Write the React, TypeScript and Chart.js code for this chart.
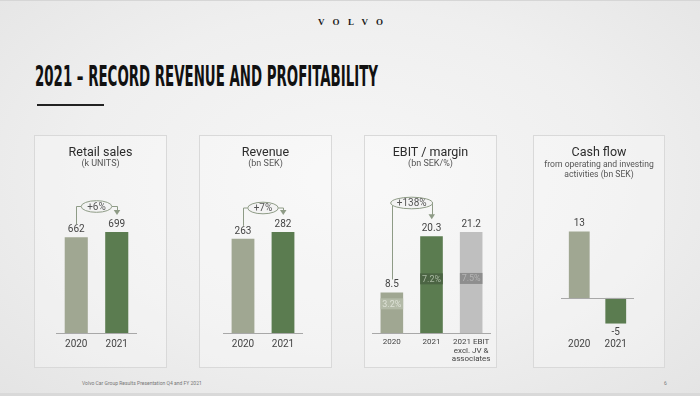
import React, { useEffect, useLayoutEffect, useRef } from "react";
import { Chart, registerables } from "chart.js";

Chart.register(...registerables);

// ---------- data ----------
const retailCategories = ["2020", "2021"];
const retailValues = [662, 699];
const retailGrowth = "+6%";

const revenueCategories = ["2020", "2021"];
const revenueValues = [263, 282];
const revenueGrowth = "+7%";

const ebitCategories = [["2020"], ["2021"], ["2021 EBIT", "excl. JV &", "associates"]];
const ebitValues = [8.5, 20.3, 21.2];
const ebitMargins = ["3.2%", "7.2%", "7.5%"];
const ebitGrowth = "+138%";

const cashCategories = ["2020", "2021"];
const cashValues = [13, -5];

// ---------- style ----------
const FONT = "Roboto, 'Liberation Sans', sans-serif";
const C2020 = "#a0a792";
const C2021 = "#5b7c50";
const CGRAY = "#bfbfbf";
const LINE = "#8e9b86";
const PANEL_TOP = 134;
const PANEL_H = 233;

type PanelCfg = {
  left: number;
  width: number;
  areaLeft: number;
  areaRight: number;
  title: string;
  sub: string[];
  subTop: number;
  labels: any[];
  values: number[];
  colors: string[];
  yMin: number;
  yMax: number;
  growth?: string;
  growthOffset?: number;
  margins?: string[];
  bandFrac?: number[];
  bandColors?: string[];
  bandText?: string[];
  tickSize: number;
  tickLH: number;
};

const panels: PanelCfg[] = [
  {
    left: 34, width: 133, areaLeft: 56, areaRight: 137,
    title: "Retail sales", sub: ["(k UNITS)"], subTop: 158,
    labels: retailCategories, values: retailValues, colors: [C2020, C2021],
    yMin: 0, yMax: 983, growth: retailGrowth, growthOffset: 15.5,
    tickSize: 10, tickLH: 1.2,
  },
  {
    left: 199, width: 133, areaLeft: 223, areaRight: 303,
    title: "Revenue", sub: ["(bn SEK)"], subTop: 158,
    labels: revenueCategories, values: revenueValues, colors: [C2020, C2021],
    yMin: 0, yMax: 396.5, growth: revenueGrowth, growthOffset: 17,
    tickSize: 10, tickLH: 1.2,
  },
  {
    left: 364, width: 133, areaLeft: 372, areaRight: 491,
    title: "EBIT / margin", sub: ["(bn SEK/%)"], subTop: 158,
    labels: ebitCategories, values: ebitValues, colors: [C2020, C2021, CGRAY],
    yMin: 0, yMax: 29.8, growth: ebitGrowth, growthOffset: 12,
    margins: ebitMargins, bandFrac: [0.72, 0.56, 0.54],
    bandColors: ["#b3baa7", "#4b6443", "#8e8e8e"],
    bandText: ["#dde1d6", "#a9b9a2", "#b4b4b4"],
    tickSize: 8, tickLH: 1.05,
  },
  {
    left: 533, width: 132, areaLeft: 561, areaRight: 634,
    title: "Cash flow", sub: ["from operating and investing", "activities (bn SEK)"], subTop: 159,
    labels: cashCategories, values: cashValues, colors: [C2020, C2021],
    yMin: -6.85, yMax: 20.9,
    tickSize: 10, tickLH: 1.2,
  },
];

function decorPlugin(cfg: PanelCfg) {
  return {
    id: "decor",
    afterDatasetsDraw(chart: any) {
      const ctx = chart.ctx as CanvasRenderingContext2D;
      const area = chart.chartArea;
      const y = chart.scales.y;
      const meta = chart.getDatasetMeta(0);
      const y0 = Math.round(y.getPixelForValue(0)) + 0.5;
      ctx.save();
      ctx.textAlign = "center";
      ctx.textBaseline = "middle";

      // margin bands
      if (cfg.margins) {
        meta.data.forEach((el: any, i: number) => {
          const h = el.base - el.y;
          const cy = el.base - cfg.bandFrac![i] * h;
          ctx.fillStyle = cfg.bandColors![i];
          ctx.fillRect(el.x - el.width / 2, cy - 5.5, el.width, 11);
          ctx.fillStyle = cfg.bandText![i];
          ctx.font = `9px ${FONT}`;
          ctx.fillText(cfg.margins![i], el.x, cy + 0.5);
        });
      }

      // baseline
      ctx.strokeStyle = "#a8a8a8";
      ctx.lineWidth = 1;
      ctx.beginPath();
      ctx.moveTo(area.left, y0);
      ctx.lineTo(area.right, y0);
      ctx.stroke();

      // value labels
      ctx.font = `10px ${FONT}`;
      ctx.fillStyle = "#444";
      meta.data.forEach((el: any, i: number) => {
        const v = cfg.values[i];
        const ty = v >= 0 ? el.y - 7.5 : el.y + 8.5;
        ctx.fillText(String(v), el.x, ty);
      });

      // growth annotation
      if (cfg.growth) {
        const a = meta.data[0];
        const b = meta.data[1];
        const cx = (a.x + b.x) / 2;
        const cy = area.top + (cfg.growthOffset || 0);
        ctx.font = `10px ${FONT}`;
        const tw = ctx.measureText(cfg.growth).width;
        const rx = tw / 2 + 6;
        const ry = 5.8;
        ctx.strokeStyle = LINE;
        ctx.lineWidth = 1;
        ctx.beginPath();
        ctx.moveTo(Math.round(a.x) + 0.5, a.y - 13);
        ctx.lineTo(Math.round(a.x) + 0.5, cy);
        ctx.lineTo(cx - rx, cy);
        ctx.moveTo(cx + rx, cy);
        ctx.lineTo(Math.round(b.x) + 0.5, cy);
        ctx.lineTo(Math.round(b.x) + 0.5, b.y - 21);
        ctx.stroke();
        ctx.fillStyle = LINE;
        ctx.beginPath();
        ctx.moveTo(b.x - 3, b.y - 22);
        ctx.lineTo(b.x + 3.5, b.y - 22);
        ctx.lineTo(b.x + 0.25, b.y - 17);
        ctx.closePath();
        ctx.fill();
        ctx.beginPath();
        ctx.ellipse(cx, cy, rx, ry, 0, 0, Math.PI * 2);
        ctx.fillStyle = "#f3f3f3";
        ctx.fill();
        ctx.stroke();
        ctx.fillStyle = "#555";
        ctx.fillText(cfg.growth, cx, cy + 0.5);
      }
      ctx.restore();
    },
  };
}

function BarPanel({ cfg }: { cfg: PanelCfg }) {
  const ref = useRef<HTMLCanvasElement>(null);
  useEffect(() => {
    if (!ref.current) return;
    const chart = new Chart(ref.current, {
      type: "bar",
      data: {
        labels: cfg.labels,
        datasets: [
          {
            data: cfg.values,
            backgroundColor: cfg.colors,
            borderWidth: 0,
            barPercentage: 0.57,
            categoryPercentage: 1,
          },
        ],
      },
      options: {
        animation: false,
        responsive: false,
        maintainAspectRatio: false,
        devicePixelRatio: 1,
        layout: {
          padding: {
            left: cfg.areaLeft - cfg.left,
            right: cfg.left + cfg.width - cfg.areaRight,
            top: 56,
            bottom: 0,
          },
        },
        plugins: {
          legend: { display: false },
          tooltip: { enabled: false },
          title: { display: false },
        },
        scales: {
          x: {
            grid: { display: false, drawTicks: false },
            border: { display: false },
            ticks: {
              color: "#444",
              font: { family: FONT, size: cfg.tickSize, lineHeight: cfg.tickLH },
              padding: 5,
              maxRotation: 0,
              autoSkip: false,
            },
            afterFit: (s: any) => {
              s.height = 35;
            },
          },
          y: { display: false, min: cfg.yMin, max: cfg.yMax },
        },
      } as any,
      plugins: [decorPlugin(cfg)],
    });
    return () => chart.destroy();
  }, [cfg]);

  return (
    <>
      <div
        style={{
          position: "absolute",
          left: cfg.left,
          top: PANEL_TOP,
          width: cfg.width,
          height: PANEL_H,
          boxSizing: "border-box",
          border: "1px solid #d9d9d9",
          background: "rgba(255,255,255,0.28)",
        }}
      />
      <canvas
        ref={ref}
        width={cfg.width}
        height={PANEL_H}
        style={{ position: "absolute", left: cfg.left, top: PANEL_TOP, width: cfg.width, height: PANEL_H }}
      />
      <div
        style={{
          position: "absolute",
          left: cfg.left,
          top: 142.5,
          width: cfg.width,
          textAlign: "center",
          font: `400 12.5px/15px ${FONT}`,
          color: "#2b2b2b",
          whiteSpace: "nowrap",
        }}
      >
        {cfg.title}
      </div>
      <div
        style={{
          position: "absolute",
          left: cfg.left,
          top: cfg.subTop,
          width: cfg.width,
          textAlign: "center",
          font: `${cfg.sub.length > 1 ? 8.6 : 9}px/9.5px ${FONT}`,
          color: "#555",
          whiteSpace: "nowrap",
        }}
      >
        {cfg.sub.map((s, i) => (
          <div key={i}>{s}</div>
        ))}
      </div>
    </>
  );
}

export default function App() {
  const titleRef = useRef<HTMLSpanElement>(null);
  useLayoutEffect(() => {
    const el = titleRef.current;
    if (!el) return;
    el.style.transform = "none";
    const w = el.getBoundingClientRect().width;
    if (w > 0) el.style.transform = `scaleX(${343 / w})`;
  }, []);

  return (
    <div
      style={{
        position: "absolute",
        left: 0,
        top: 0,
        width: 700,
        height: 396,
        overflow: "hidden",
        background: "radial-gradient(ellipse at 50% 45%, #f6f6f6 0%, #efefef 55%, #e4e4e4 100%)",
        fontFamily: FONT,
        borderTop: "1px solid #d6d6d6",
        boxSizing: "border-box",
      }}
    >
      <span
        style={{
          position: "absolute",
          left: 318,
          top: 15,
          font: "bold 9px/12px 'Liberation Serif', 'DejaVu Serif', serif",
          letterSpacing: "8.3px",
          color: "#1a1a1a",
          whiteSpace: "nowrap",
        }}
      >
        VOLVO
      </span>
      <span
        ref={titleRef}
        style={{
          position: "absolute",
          left: 35,
          top: 61.5,
          font: "bold 28px/28px 'Liberation Sans Narrow', 'DejaVu Sans Condensed', 'Liberation Sans', sans-serif",
          color: "#111",
          whiteSpace: "nowrap",
          transformOrigin: "0 0",
          display: "inline-block",
        }}
      >
        2021 – RECORD REVENUE AND PROFITABILITY
      </span>
      <div style={{ position: "absolute", left: 37, top: 103, width: 67, height: 2, background: "#222" }} />

      {panels.map((p, i) => (
        <BarPanel key={i} cfg={p} />
      ))}

      <div
        style={{
          position: "absolute",
          left: 82,
          top: 379,
          font: `5px/6px ${FONT}`,
          color: "#777",
          whiteSpace: "nowrap",
        }}
      >
        Volvo Car Group Results Presentation Q4 and FY 2021
      </div>
      <div
        style={{
          position: "absolute",
          left: 664,
          top: 379,
          font: `5px/6px ${FONT}`,
          color: "#777",
        }}
      >
        6
      </div>
      <div style={{ position: "absolute", left: 0, bottom: 0, width: 700, height: 3, background: "#d9d9d9" }} />
    </div>
  );
}
